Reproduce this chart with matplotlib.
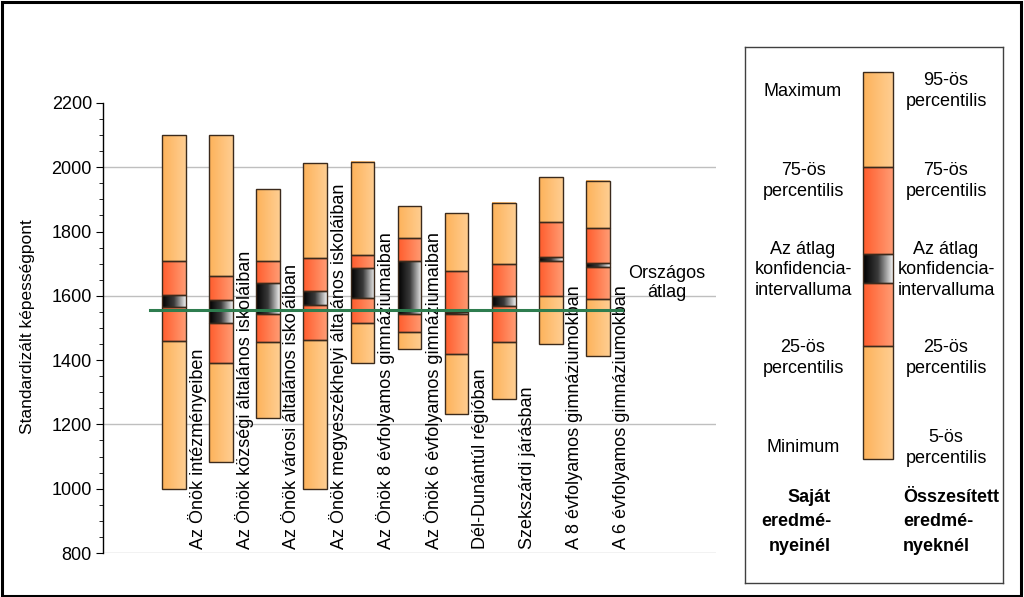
import numpy as np
import matplotlib
matplotlib.use("Agg")
import matplotlib.pyplot as plt
from matplotlib.colors import LinearSegmentedColormap
from matplotlib.patches import Rectangle

plt.rcParams['font.family'] = ['Liberation Sans', 'DejaVu Sans']

categories = ["Az Önök intézményeiben",
              "Az Önök községi általános iskoláiban",
              "Az Önök városi általános iskoláiban",
              "Az Önök megyeszékhelyi általános iskoláiban",
              "Az Önök 8 évfolyamos gimnáziumaiban",
              "Az Önök 6 évfolyamos gimnáziumaiban",
              "Dél-Dunántúl régióban",
              "Szekszárdi járásban",
              "A 8 évfolyamos gimnáziumokban",
              "A 6 évfolyamos gimnáziumokban"]
p_low = [1000, 1082, 1221, 1000, 1390, 1435, 1231, 1279, 1449, 1413]
q1 = [1460, 1390, 1456, 1463, 1515, 1489, 1418, 1457, 1600, 1589]
ci_low = [1566, 1517, 1544, 1572, 1592, 1544, 1544, 1568, 1708, 1691]
ci_high = [1603, 1587, 1639, 1615, 1688, 1708, 1551, 1600, 1720, 1703]
q3 = [1709, 1662, 1709, 1719, 1727, 1781, 1678, 1698, 1831, 1810]
p_high = [2100, 2100, 1932, 2012, 2017, 1880, 1857, 1890, 1969, 1958]
national_avg = 1557
y_ticks = [800, 1000, 1200, 1400, 1600, 1800, 2000, 2200]
grid_vals = [800, 1200, 1600, 2000]

legend_left = ["Maximum", "75-ös\npercentilis", "Az átlag\nkonfidencia-\nintervalluma",
               "25-ös\npercentilis", "Minimum"]
legend_right = ["95-ös\npercentilis", "75-ös\npercentilis", "Az átlag\nkonfidencia-\nintervalluma",
                "25-ös\npercentilis", "5-ös\npercentilis"]

cm_light = LinearSegmentedColormap.from_list("light", ["#FDB25A", "#FFCE92"])
cm_red = LinearSegmentedColormap.from_list("red", ["#FF5C2C", "#FF9C74"])
cm_ci = LinearSegmentedColormap.from_list("ci", ["#000000", "#3a3a3a", "#F2F2F2"])
grad = np.linspace(0, 1, 256).reshape(1, -1)
edge = "#3B2A1C"
FS = 13

fig = plt.figure(figsize=(10.24, 5.97), dpi=100)
W, H = 1024, 597

def fx(px):
    return px / W

def fy(py):
    return 1 - py / H

ax = fig.add_axes([fx(103), fy(553), fx(716) - fx(103), fy(103) - fy(553)])


def seg(a, x0, x1, y0, y1, cmap):
    a.imshow(grad, cmap=cmap, extent=[x0, x1, y0, y1], aspect='auto',
             interpolation='bilinear', zorder=3)
    a.add_patch(Rectangle((x0, y0), x1 - x0, y1 - y0, fill=False,
                          edgecolor=edge, linewidth=1.0, zorder=4))

w = 0.5
for i in range(len(categories)):
    x0, x1 = i - w / 2, i + w / 2
    seg(ax, x0, x1, p_low[i], q1[i], cm_light)
    seg(ax, x0, x1, q1[i], ci_low[i], cm_red)
    seg(ax, x0, x1, ci_low[i], ci_high[i], cm_ci)
    seg(ax, x0, x1, ci_high[i], q3[i], cm_red)
    seg(ax, x0, x1, q3[i], p_high[i], cm_light)
    ax.text(i + 0.5, 812, categories[i], rotation=90, ha='center', va='bottom',
            fontsize=FS, zorder=5)

for g in grid_vals:
    ax.axhline(g, color='#BFBFBF', linewidth=1.0, zorder=1)

ax.plot([-0.5, len(categories) - 0.5], [national_avg, national_avg],
        color='#2E7D4F', linewidth=2.2, zorder=6)
ax.text(len(categories) + 0.45, 1640, "Országos\nátlag", ha='center', va='center',
        fontsize=FS, linespacing=1.1, zorder=6)

ax.set_xlim(-1.5, 11.5)
ax.set_ylim(800, 2200)
ax.set_yticks(y_ticks)
ax.set_yticks(np.arange(800, 2201, 50), minor=True)
ax.tick_params(axis='y', which='major', length=5, labelsize=FS, pad=3)
ax.tick_params(axis='y', which='minor', length=3)
ax.set_xticks([])
for s in ['top', 'right', 'bottom']:
    ax.spines[s].set_visible(False)
ax.spines['left'].set_linewidth(1.0)
ax.patch.set_alpha(0)
fig.text(fx(28), fy(327), "Standardizált képességpont", rotation=90,
         ha='center', va='center', fontsize=12.5)

# legend box
lax = fig.add_axes([fx(745), fy(583), fx(1003) - fx(745), fy(47) - fy(583)])
lax.set_xticks([])
lax.set_yticks([])
for s in lax.spines.values():
    s.set_linewidth(1.0)
    s.set_color('#404040')
bx0, bx1 = 863, 893
bounds = [459, 346, 283, 254, 167, 72]
cmaps = [cm_light, cm_red, cm_ci, cm_red, cm_light]
for k in range(5):
    lo, hi = bounds[k], bounds[k + 1]
    lax.imshow(grad, cmap=cmaps[k], extent=[bx0, bx1, lo, hi], aspect='auto',
               interpolation='bilinear', zorder=3)
    lax.add_patch(Rectangle((bx0, hi), bx1 - bx0, lo - hi, fill=False,
                            edgecolor=edge, linewidth=1.0, zorder=4))
lax.set_xlim(745, 1003)
lax.set_ylim(583, 47)
ys_left = [91, 181, 270, 358, 448]
ys_right = [91, 181, 270, 358, 448]
for t, yy in zip(legend_left, ys_left):
    lax.text(803, yy, t, ha='center', va='center', fontsize=FS, linespacing=1.3)
for t, yy in zip(legend_right, ys_right):
    lax.text(946, yy, t, ha='center', va='center', fontsize=FS, linespacing=1.3)
lax.text(831, 522, "Saját\neredmé-\nnyeinél", ha='right', va='center', fontsize=FS,
         fontweight='bold', linespacing=1.55, multialignment='right')
lax.text(903, 522, "Összesített\neredmé-\nnyeknél", ha='left', va='center', fontsize=FS,
         fontweight='bold', linespacing=1.55, multialignment='left')

# outer frame
fig.patches.append(Rectangle((fx(1.5), fy(595.5)), fx(1020.5) - fx(1.5), fy(1.5) - fy(595.5),
                             transform=fig.transFigure, fill=False, edgecolor='black',
                             linewidth=2.2))

fig.savefig("out.png", dpi=100)
